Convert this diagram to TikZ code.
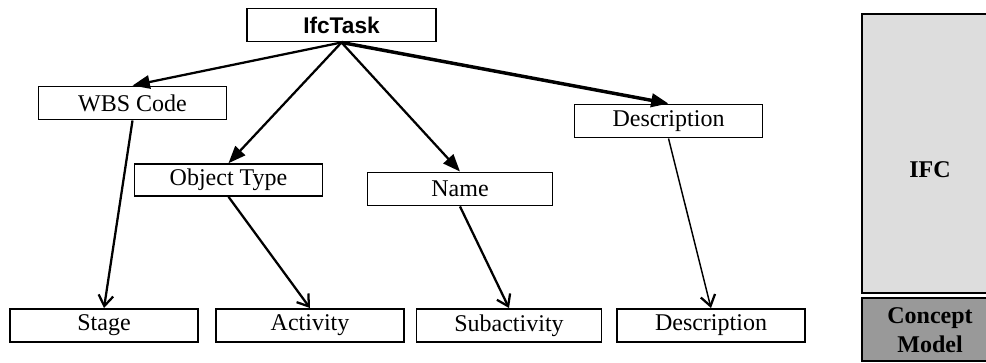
\documentclass[tikz,border=0pt]{standalone}
\usepackage{fontspec}
\setmainfont{Liberation Serif}
\setsansfont{Liberation Sans}
\usetikzlibrary{arrows.meta}

\begin{document}
\begin{tikzpicture}[x=0.75pt,y=0.75pt,yscale=-1,xscale=1,
  attr/.style={draw,line width=1.2pt,inner sep=0pt,minimum width=141pt,minimum height=25pt,font=\fontsize{18}{20}\selectfont},
  topline/.style={line width=1.7pt,-{Triangle[length=13pt,width=10pt]}},
  mapline/.style={line width=1.7pt,-{Straight Barb[length=8pt,width=11pt,line width=1.7pt]}}]
%set diagram size: 986 x 363
\clip (0,0) rectangle (986,363);

%Shape: Rect [id:ifctask]
\node [attr,minimum width=142pt,font=\sffamily\bfseries\fontsize{17}{19}\selectfont] (ifctask) at (341.5,25) {IfcTask};
%Shape: Rect [id:wbs]
\node [attr] (wbs) at (132.5,103) {WBS Code};
%Shape: Rect [id:objtype]
\node [attr,minimum height=24pt] (objtype) at (228.5,180) {Object Type};
%Shape: Rect [id:name]
\node [attr,minimum width=139pt] (name) at (460,189) {Name};
%Shape: Rect [id:desc]
\node [attr] (desc) at (668.5,121) {Description};

%Shape: Rect [id:stage]
\node [attr] (stage) at (104,325.5) {Stage};
%Shape: Rect [id:activity]
\node [attr] (activity) at (310,325.5) {Activity};
%Shape: Rect [id:subact]
\node [attr,minimum width=139pt] (subact) at (509,325.5) {Subactivity};
%Shape: Rect [id:descb]
\node [attr] (descb) at (711,325.5) {Description};

%Straight Lines [id:top]
\draw [topline] (ifctask.south) -- (wbs.north);
\draw [topline] (ifctask.south) -- (objtype.north);
\draw [topline] (ifctask.south) -- (name.north);
\draw [topline,line width=2.6pt] (ifctask.south) -- (desc.north);

%Straight Lines [id:mapping]
\draw [mapline] (wbs.south) -- (stage.north);
\draw [mapline] (objtype.south) -- (activity.north);
\draw [mapline] (name.south) -- (subact.north);
\draw [mapline,line width=1.1pt] (desc.south) -- (descb.north);

%Shape: Rect [id:ifc]
\draw [line width=1.2pt,fill={rgb, 255:red, 221; green, 221; blue, 221 }] (862,14) rectangle (995,293);
%Shape: Rect [id:concept]
\draw [line width=1.2pt,fill={rgb, 255:red, 153; green, 153; blue, 153 }] (862,298) rectangle (995,361);

% Text Node
\node [font=\bfseries\fontsize{18}{20}\selectfont] (ifclabel) at (930,170) {IFC};
% Text Node
\node [font=\bfseries\fontsize{18}{21.5}\selectfont,align=center,inner sep=0pt] (conceptlabel) at (930,330) {Concept\\Model};

\end{tikzpicture}
\end{document}
